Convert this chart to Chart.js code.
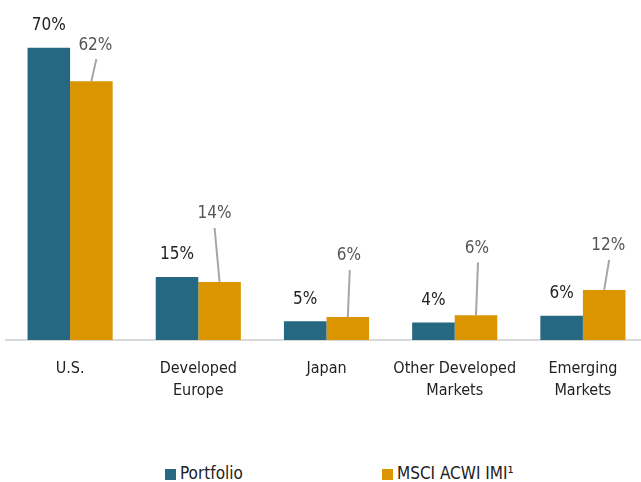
<!DOCTYPE html>
<html>
<head>
<meta charset="utf-8">
<script src="https://cdn.jsdelivr.net/npm/chart.js@4/dist/chart.umd.min.js"></script>
<style>
    html, body { margin: 0; padding: 0; background: #fff; overflow: hidden; }
    body { width: 641px; height: 482px; position: relative; font-family: 'DejaVu Sans Condensed', 'Roboto', sans-serif; }
    .chart-box { position: absolute; left: 0; top: 0; width: 650px; height: 420px; }
    .legend { position: absolute; top: 463px; left: 0; width: 641px; height: 20px; }
    .legend-item { position: absolute; top: 0; display: flex; align-items: center; font-size: 17px; color: #222; }
    .legend-dot { width: 11px; height: 11px; margin-right: 4px; margin-top: 3px; }
</style>
</head>
<body>
<div class="chart-box"><canvas id="barChart"></canvas></div>
<div class="legend" id="legend"></div>
<script>
const FONT = "'DejaVu Sans Condensed', 'Roboto', sans-serif";

const categories = [['U.S.'], ['Developed', 'Europe'], ['Japan'], ['Other Developed', 'Markets'], ['Emerging', 'Markets']];
const seriesNames = ['Portfolio', 'MSCI ACWI IMI¹'];
const portfolio = [70, 15.1, 4.5, 4.2, 5.8];
const msci      = [62, 13.9, 5.5, 5.9, 12.0];
const colors    = ['#266882', '#DB9500'];

// label callouts for the benchmark series: [dx, dy] of label centre from bar top, line from label to bar
const callouts = [[4, -36, 6], [-5, -68, -4], [1, -61, 1], [1, -67, 1], [4, -44, 5]];

const valueLabels = {
    id: 'valueLabels',
    afterDatasetsDraw(chart) {
        const ctx = chart.ctx;
        ctx.save();
        ctx.font = `17px ${FONT}`;
        ctx.textAlign = 'center';
        ctx.textBaseline = 'middle';

        // ── Portfolio: straight above bar ─────────
        chart.getDatasetMeta(0).data.forEach((bar, i) => {
            ctx.fillStyle = '#222';
            ctx.fillText(Math.round(portfolio[i]) + '%', bar.x, bar.y - 22);
        });

        // ── Benchmark: label with leader line ─────
        chart.getDatasetMeta(1).data.forEach((bar, i) => {
            const [dx, dy, lx] = callouts[i];
            const tx = bar.x + dx, ty = bar.y + dy;
            ctx.strokeStyle = '#a6a6a6';
            ctx.lineWidth = 2;
            ctx.beginPath();
            ctx.moveTo(tx + (lx > 0 ? 1 : 0), ty + 14);
            ctx.lineTo(bar.x, bar.y);
            ctx.stroke();
            ctx.fillStyle = '#555';
            ctx.fillText(Math.round(msci[i]) + '%', tx, ty);
        });
        ctx.restore();
    }
};

const barCtx = document.getElementById('barChart').getContext('2d');
new Chart(barCtx, {
    type: 'bar',
    data: {
        labels: categories,
        datasets: [
            { label: seriesNames[0], data: portfolio, backgroundColor: colors[0], categoryPercentage: 0.664, barPercentage: 1 },
            { label: seriesNames[1], data: msci,      backgroundColor: colors[1], categoryPercentage: 0.664, barPercentage: 1 }
        ]
    },
    options: {
        responsive: true, maintainAspectRatio: false, animation: false,
        layout: { padding: { left: 6, right: 3, top: 6, bottom: 8 } },
        plugins: { legend: { display: false }, tooltip: { enabled: false } },
        scales: {
            y: { display: false, min: 0, max: 80 },
            x: {
                grid: { display: false },
                border: { color: '#d9d9d9', width: 2 },
                ticks: { padding: 10, color: '#222', maxRotation: 0, minRotation: 0, autoSkip: false,
                         font: { family: FONT, size: 16, lineHeight: '22px' } }
            }
        }
    },
    plugins: [valueLabels]
});

// ── Legend ─────────────────────────────────
const legendLeft = [165, 382];
document.getElementById('legend').innerHTML = seriesNames.map((name, i) => `
    <div class="legend-item" style="left:${legendLeft[i]}px">
        <div class="legend-dot" style="background:${colors[i]}"></div>${name}
    </div>
`).join('');
</script>
</body>
</html>
